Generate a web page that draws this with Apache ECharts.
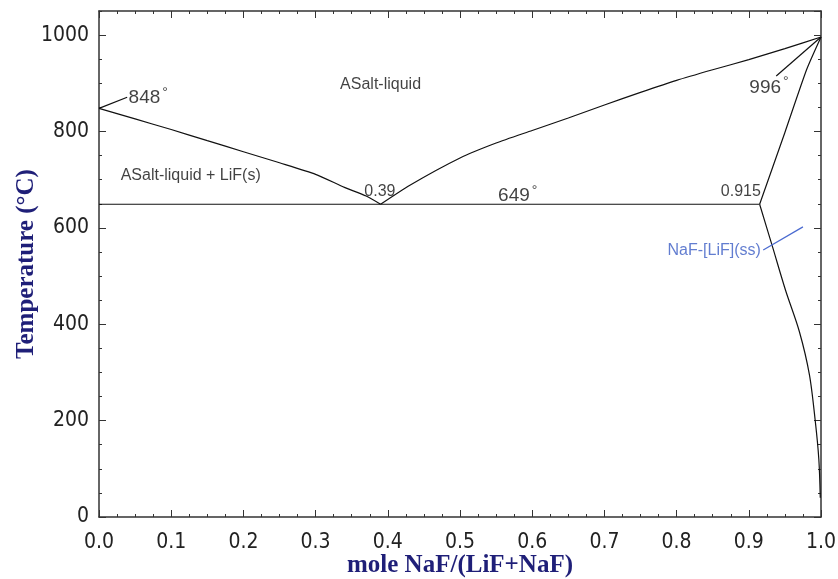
<!DOCTYPE html>
<html>
<head>
<meta charset="utf-8">
<script src="https://cdn.jsdelivr.net/npm/echarts@6/dist/echarts.min.js"></script>
<style>
  html, body { margin: 0; padding: 0; background: #fff; }
  #chart { width: 838px; height: 579px; }
</style>
</head>
<body>
<div id="chart"></div>
<script>
// LiF-NaF phase diagram
const liquidusLiF = [[0, 848], [0.05, 826], [0.1, 804], [0.15, 781], [0.2, 758], [0.25, 735], [0.3, 711], [0.34, 684], [0.37, 666], [0.39, 649]];
const liquidusNaF = [[0.39, 649], [0.43, 688], [0.5, 745], [0.55, 776], [0.6, 802], [0.65, 828], [0.7, 855], [0.75, 881], [0.8, 906], [0.85, 928], [0.9, 949], [0.95, 972], [1.0, 996]];
const eutectic = [[0, 649], [0.915, 649]];
const solidus = [[0.915, 649], [0.95, 798], [0.98, 928], [1.0, 996]];
const solvus = [[0.915, 649], [0.933, 560], [0.951, 470], [0.970, 385], [0.984, 295], [0.992, 200], [0.997, 120], [0.999, 40]];
const leader848 = [[0, 848], [0.039, 871]];
const leader996 = [[1.0, 996], [0.938, 915]];
const leaderSS = [[0.92, 554], [0.975, 602]];

// annotations
const annoText = ["848", "ASalt-liquid", "ASalt-liquid + LiF(s)", "0.39", "649", "0.915", "996", "NaF-[LiF](ss)"];
const annoX = [0.041, 0.39, 0.127, 0.389, 0.58, 0.889, 0.928, 0.852];
const annoY = [869, 898, 709, 675, 666, 675, 891, 553];
const annoDeg = [true, false, false, false, true, false, true, false];
const annoColor = ["#111", "#111", "#111", "#111", "#111", "#111", "#111", "#3b5cc4"];

const xTickLabels = ["0.0", "0.1", "0.2", "0.3", "0.4", "0.5", "0.6", "0.7", "0.8", "0.9", "1.0"];

const chart = echarts.init(document.getElementById("chart"), null, { renderer: "canvas" });
const NARROW = "'Liberation Sans Narrow', 'DejaVu Sans Condensed', sans-serif";
const SANS = "'Liberation Sans', Arial, sans-serif";
const AX = "#333";
const nameStyle = { fontFamily: "'Liberation Serif', serif", fontWeight: "bold", fontSize: 25, color: "#1f1f78" };

function xAx(pos, labels) {
  return {
    type: "value", min: 0, max: 1, interval: 0.1, position: pos,
    axisLine: { onZero: false, lineStyle: { color: AX, width: 1.5 } },
    axisTick: { inside: true, length: 7, lineStyle: { color: AX } },
    minorTick: { show: true, splitNumber: 4, length: 3, lineStyle: { color: AX } },
    splitLine: { show: false },
    axisLabel: labels ? { show: true, margin: 15, fontFamily: NARROW, fontSize: 21, color: "#222",
      formatter: (v) => xTickLabels[Math.round(v * 10)] } : { show: false },
    name: labels ? "mole NaF/(LiF+NaF)" : "", nameLocation: "middle", nameGap: 36, nameMoveOverlap: false,
    nameTextStyle: nameStyle,
  };
}
function yAx(pos, step, len, labels, line) {
  return {
    type: "value", min: 0, max: 1050, interval: step, position: pos,
    axisLine: { show: line, onZero: false, lineStyle: { color: AX, width: 1.5 } },
    axisTick: { inside: true, length: len, lineStyle: { color: AX } },
    splitLine: { show: false },
    axisLabel: labels ? { show: true, margin: 10, fontFamily: NARROW, fontSize: 21, color: "#222", showMaxLabel: false,
      formatter: (v) => (v % 200 === 0 && v <= 1000 ? String(v) : "") } : { show: false },
    name: labels ? "Temperature (°C)" : "", nameLocation: "middle", nameGap: 60, nameRotate: 90, nameMoveOverlap: false,
    nameTextStyle: nameStyle,
  };
}

function line(data, color, smooth) {
  return { type: "line", data, xAxisIndex: 0, yAxisIndex: 0, showSymbol: false, symbol: "none", smooth: smooth || false,
    lineStyle: { color: color || "#111", width: 1.2 }, silent: true, z: 3 };
}

chart.setOption({
  animation: false,
  backgroundColor: "#fff",
  grid: { left: 99, right: 17, top: 11, bottom: 62, outerBoundsMode: "none", containLabel: false },
  xAxis: [xAx("bottom", true), xAx("top", false)],
  yAxis: [yAx("left", 200, 7, true, true), yAx("left", 50, 3, false, false),
          yAx("right", 200, 7, false, true), yAx("right", 50, 3, false, false)],
  series: [
    line(liquidusLiF, null, 0.2), line(liquidusNaF, null, 0.2), line(eutectic), line(solidus, null, 0.2), line(solvus, null, 0.3),
    line(leader848), line(leader996), line(leaderSS, "#4a6ad0"),
    {
      type: "scatter", xAxisIndex: 0, yAxisIndex: 0, symbolSize: 0, silent: true, z: 5,
      data: annoText.map((t, i) => ({
        value: [annoX[i], annoY[i]],
        label: {
          show: true, position: [0, 0], align: i === 0 ? "left" : "center", verticalAlign: "middle",
          formatter: annoDeg[i] ? "{n|" + t + "}{d|°}" : t,
          fontFamily: SANS, fontSize: 16, color: annoColor[i],
          rich: {
            n: { fontFamily: SANS, fontSize: 19, color: "#111" },
            d: { fontFamily: SANS, fontSize: 14, color: "#111", verticalAlign: "top", padding: [0, 0, 10, 2] },
          },
        },
      })),
    },
  ],
});
</script>
</body>
</html>
